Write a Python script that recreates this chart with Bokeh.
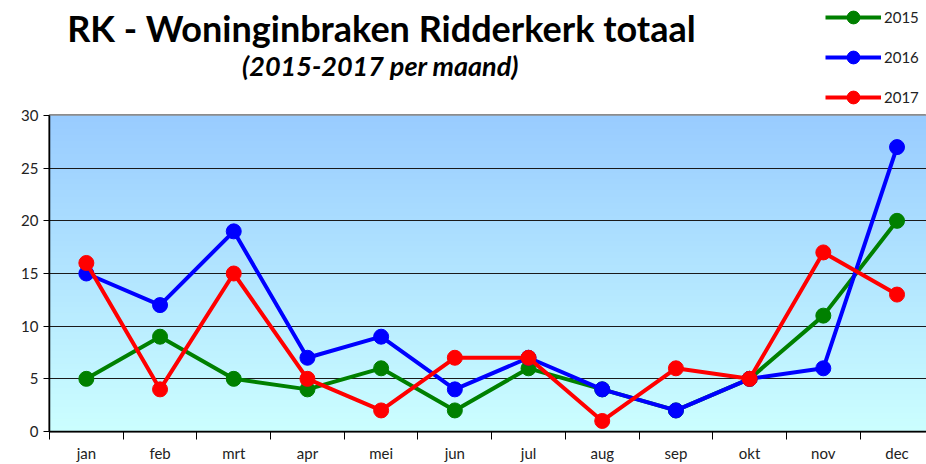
import numpy as np
from bokeh.plotting import figure
from bokeh.layouts import column
from bokeh.models import (Range1d, FixedTicker, Label, Legend, LegendItem)
from bokeh.embed import file_html
from bokeh.resources import INLINE

months = ["jan", "feb", "mrt", "apr", "mei", "jun", "jul", "aug", "sep", "okt", "nov", "dec"]
y2015 = [5, 9, 5, 4, 6, 2, 6, 4, 2, 5, 11, 20]
y2016 = [15, 12, 19, 7, 9, 4, 7, 4, 2, 5, 6, 27]
y2017 = [16, 4, 15, 5, 2, 7, 7, 1, 6, 5, 17, 13]
series = [("2015", y2015, "#008000"), ("2016", y2016, "#0000FF"), ("2017", y2017, "#FF0000")]
yticks = [0, 5, 10, 15, 20, 25, 30]
title_text = "RK - Woninginbraken Ridderkerk totaal"
subtitle_text = "(2015-2017 per maand)"

FONT = "Lato"
x = list(range(len(months)))

HEAD_H = 106
LEFT = 49
# ---------- header figure (title, subtitle, legend) ----------
h = figure(width=926, height=HEAD_H, output_backend="svg", toolbar_location=None,
           x_range=Range1d(LEFT, 926), y_range=Range1d(HEAD_H, 0),
           min_border=0, min_border_left=LEFT, min_border_right=0,
           min_border_top=0, min_border_bottom=0)
h.axis.visible = False
h.grid.visible = False
h.outline_line_color = None
h.background_fill_color = "white"
h.border_fill_color = "white"
h.extra_y_ranges = {"off": Range1d(1000, 1001)}

items = []
for name, ys, col in series:
    r1 = h.line(x, ys, line_color=col, line_width=4, y_range_name="off")
    r2 = h.scatter(x, ys, size=13, fill_color=col, line_color=col, y_range_name="off")
    items.append(LegendItem(label=name, renderers=[r1, r2]))

legend = Legend(items=items, location=(825 - LEFT, HEAD_H - 113), orientation="vertical",
                glyph_width=56, glyph_height=32, spacing=8, padding=0, margin=0,
                label_standoff=3, label_text_font=FONT, label_text_font_size="15px",
                label_text_color="#222222", border_line_color=None,
                background_fill_alpha=0)
h.add_layout(legend, "center")

h.add_layout(Label(x=381, y=27, text=title_text, text_font=FONT,
                   text_font_style="bold", text_font_size="36px", text_align="center",
                   text_baseline="middle", text_color="black"))
h.add_layout(Label(x=380, y=65, text=subtitle_text, text_font=FONT,
                   text_font_style="bold italic", text_font_size="27px", text_align="center",
                   text_baseline="middle", text_color="black"))

# ---------- main chart ----------
p = figure(width=926, height=464 - HEAD_H, output_backend="svg", toolbar_location=None,
           x_range=Range1d(-0.5, 11.4), y_range=Range1d(0, 30),
           min_border_left=LEFT, min_border_right=0, min_border_top=115 - HEAD_H,
           min_border_bottom=32)
p.background_fill_color = "white"
p.border_fill_color = "white"

n = 200
img = np.zeros((n, 1), dtype=np.uint32)
view = img.view(dtype=np.uint8).reshape((n, 1, 4))
top = np.array([153, 204, 255]); bot = np.array([204, 255, 255])
for i in range(n):
    t = i / (n - 1)
    c = bot * (1 - t) + top * t
    view[i, 0, 0] = int(c[0]); view[i, 0, 1] = int(c[1]); view[i, 0, 2] = int(c[2]); view[i, 0, 3] = 255
p.image_rgba(image=[img], x=-0.5, y=0, dw=12, dh=30, level="image")

p.outline_line_color = "#8c8c8c"
p.outline_line_width = 3

p.xgrid.visible = False
p.ygrid.ticker = FixedTicker(ticks=yticks)
p.ygrid.grid_line_color = "#1a1a1a"
p.ygrid.grid_line_width = 1.2

p.yaxis.ticker = FixedTicker(ticks=yticks)
p.yaxis.axis_line_color = "black"
p.yaxis.axis_line_width = 1.5
p.yaxis.major_tick_out = 6
p.yaxis.major_tick_in = 0
p.yaxis.minor_tick_line_color = None
p.yaxis.major_label_text_font = FONT
p.yaxis.major_label_text_font_size = "15px"
p.yaxis.major_label_text_color = "#222222"
p.yaxis.major_label_standoff = 5

p.xaxis.ticker = FixedTicker(ticks=x, minor_ticks=[i - 0.5 for i in range(13)])
p.xaxis.major_label_overrides = {i: m for i, m in enumerate(months)}
p.xaxis.major_tick_line_color = None
p.xaxis.major_tick_out = 0
p.xaxis.major_tick_in = 0
p.xaxis.minor_tick_out = 8
p.xaxis.minor_tick_in = 0
p.xaxis.minor_tick_line_color = "black"
p.xaxis.axis_line_color = "black"
p.xaxis.axis_line_width = 1.5
p.xaxis.major_label_text_font = FONT
p.xaxis.major_label_text_font_size = "15px"
p.xaxis.major_label_text_color = "#222222"
p.xaxis.major_label_standoff = 4

for name, ys, col in series:
    p.line(x, ys, line_color=col, line_width=4)
    p.scatter(x, ys, size=15, fill_color=col, line_color=col)

layout = column(h, p, spacing=0)
open("out.html", "w").write(file_html(layout, INLINE))
